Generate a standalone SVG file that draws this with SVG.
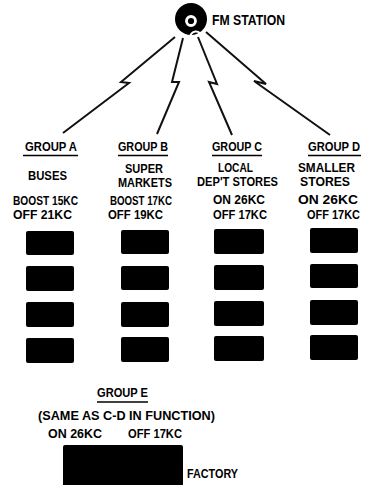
<svg xmlns="http://www.w3.org/2000/svg" width="369" height="485" viewBox="0 0 369 485">
<style>
text{font-family:"Liberation Sans",Arial,sans-serif;font-size:12px;fill:#000;font-weight:bold}
.bolt{fill:none;stroke:#111;stroke-width:2;stroke-linejoin:miter}
.ul{stroke:#000;stroke-width:1.6}
.blk{fill:#000}
</style>
<rect width="369" height="485" fill="#fff"/>
<g id="station">
<circle cx="191" cy="19" r="16" fill="#000"/>
<circle cx="191" cy="21" r="4.5" fill="none" stroke="#fff" stroke-width="2.8"/>
<path d="M190,38 A6,6 0 0 1 202,37" fill="none" stroke="#fff" stroke-width="2"/>
<text x="212" y="25" textLength="73" lengthAdjust="spacingAndGlyphs" style="font-size:14px">FM STATION</text>
</g>
<g id="connectors">
<polyline class="bolt" points="175,37 121,82 129,83 63,133"/>
<polyline class="bolt" points="183,38 172,82 179,82 157,134"/>
<polyline class="bolt" points="198,37 217,84 209,82 232,135"/>
<polyline class="bolt" points="206,32 266,84 254,81 330,135"/>
</g>
<g id="groupA">
<text x="25" y="151" textLength="52" lengthAdjust="spacingAndGlyphs">GROUP A</text>
<line class="ul" x1="23" y1="155.5" x2="78" y2="155.5"/>
<text x="28" y="180" textLength="39" lengthAdjust="spacingAndGlyphs">BUSES</text>
<text x="13" y="204.5" textLength="65" lengthAdjust="spacingAndGlyphs">BOOST 15KC</text>
<text x="13" y="218.5" textLength="59" lengthAdjust="spacingAndGlyphs">OFF 21KC</text>
<rect class="blk" x="26" y="231" width="48" height="24" rx="2"/>
<rect class="blk" x="26" y="266" width="48" height="25" rx="2"/>
<rect class="blk" x="26" y="302" width="48" height="25" rx="2"/>
<rect class="blk" x="26" y="338" width="48" height="25" rx="2"/>
</g>
<g id="groupB">
<text x="118" y="151" textLength="50" lengthAdjust="spacingAndGlyphs">GROUP B</text>
<line class="ul" x1="118" y1="155.5" x2="168" y2="155.5"/>
<text x="125" y="173" textLength="38" lengthAdjust="spacingAndGlyphs">SUPER</text>
<text x="118" y="187" textLength="54" lengthAdjust="spacingAndGlyphs">MARKETS</text>
<text x="110" y="204.5" textLength="62" lengthAdjust="spacingAndGlyphs">BOOST 17KC</text>
<text x="108" y="218.5" textLength="55" lengthAdjust="spacingAndGlyphs">OFF 19KC</text>
<rect class="blk" x="121" y="230" width="48" height="24" rx="2"/>
<rect class="blk" x="121" y="266" width="48" height="24" rx="2"/>
<rect class="blk" x="121" y="302" width="48" height="25" rx="2"/>
<rect class="blk" x="121" y="337" width="48" height="25" rx="2"/>
</g>
<g id="groupC">
<text x="212" y="151" textLength="50" lengthAdjust="spacingAndGlyphs">GROUP C</text>
<line class="ul" x1="212" y1="155.5" x2="262" y2="155.5"/>
<text x="218" y="171.5" textLength="35" lengthAdjust="spacingAndGlyphs">LOCAL</text>
<text x="197" y="185.5" textLength="81" lengthAdjust="spacingAndGlyphs">DEP'T STORES</text>
<text x="213" y="203.5" textLength="52" lengthAdjust="spacingAndGlyphs">ON 26KC</text>
<text x="213" y="218.5" textLength="54" lengthAdjust="spacingAndGlyphs">OFF 17KC</text>
<rect class="blk" x="214" y="229" width="50" height="25" rx="2"/>
<rect class="blk" x="214" y="265" width="50" height="25" rx="2"/>
<rect class="blk" x="214" y="301" width="50" height="25" rx="2"/>
<rect class="blk" x="214" y="336" width="50" height="25" rx="2"/>
</g>
<g id="groupD">
<text x="308" y="151" textLength="52" lengthAdjust="spacingAndGlyphs">GROUP D</text>
<line class="ul" x1="308" y1="155.5" x2="361" y2="155.5"/>
<text x="298" y="171.5" textLength="57" lengthAdjust="spacingAndGlyphs">SMALLER</text>
<text x="300" y="185.5" textLength="50" lengthAdjust="spacingAndGlyphs">STORES</text>
<text x="298" y="203.5" textLength="60" lengthAdjust="spacingAndGlyphs">ON 26KC</text>
<text x="307" y="218.5" textLength="53" lengthAdjust="spacingAndGlyphs">OFF 17KC</text>
<rect class="blk" x="310" y="228" width="48" height="25" rx="2"/>
<rect class="blk" x="310" y="264" width="48" height="24" rx="2"/>
<rect class="blk" x="310" y="300" width="48" height="25" rx="2"/>
<rect class="blk" x="310" y="335" width="48" height="25" rx="2"/>
</g>
<g id="groupE">
<text x="97" y="397" textLength="51" lengthAdjust="spacingAndGlyphs">GROUP E</text>
<line class="ul" x1="97" y1="402" x2="148" y2="402"/>
<text x="38" y="420" textLength="177" lengthAdjust="spacingAndGlyphs">(SAME AS C-D IN FUNCTION)</text>
<text x="48" y="438" textLength="54" lengthAdjust="spacingAndGlyphs">ON 26KC</text>
<text x="128" y="438" textLength="54" lengthAdjust="spacingAndGlyphs">OFF 17KC</text>
<rect class="blk" x="63" y="445" width="120" height="45" rx="2"/>
<text x="187" y="478" textLength="51" lengthAdjust="spacingAndGlyphs">FACTORY</text>
</g>
</svg>
